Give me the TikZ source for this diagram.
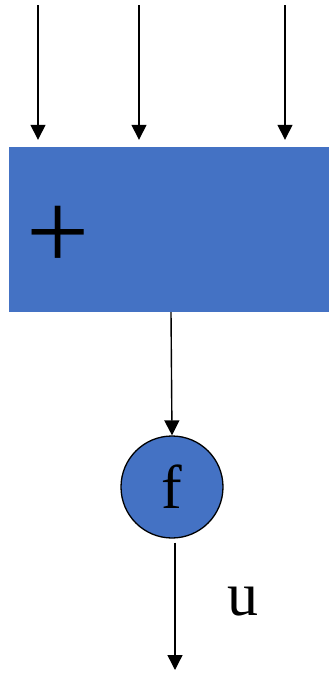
\documentclass[tikz,border=0pt]{standalone}
\usepackage{fontspec}
\setmainfont{Liberation Serif}
\usetikzlibrary{arrows.meta,positioning,calc}
\definecolor{Unit}{HTML}{4472C4}
\tikzset{
  sumbox/.style={fill=Unit,minimum width=320pt,minimum height=165pt,inner sep=0pt},
  actnode/.style={circle,draw=black,fill=Unit,line width=1.3pt,minimum size=102pt,inner sep=0pt,font=\fontsize{62}{62}\selectfont},
  sign/.style={inner sep=0pt,font=\fontsize{112}{112}\selectfont},
  flow/.style={-{Triangle[length=15pt,width=15pt]},draw=black,line width=1.4pt}
}
\begin{document}
\begin{tikzpicture}[x=1pt,y=-1pt]
  \useasboundingbox (0,0) rectangle (329,673);
  % summing block and activation
  \node[sumbox] (sum) at (169,229.5) {};
  \node[sign] (plus) at (58,238) {+};
  \node[actnode] (act) at (172,487) {f};
  \node[inner sep=0pt,font=\fontsize{62}{62}\selectfont] (lab) at (243,602) {u};
  % free ends
  \coordinate (in1) at (38,5);
  \coordinate (in2) at (139,5);
  \coordinate (in3) at (285,5);
  \coordinate (out) at (175,670);
  \foreach \i in {in1,in2,in3}
    \draw[flow,shorten >=7pt] (\i) -- (\i |- sum.north);
  \draw[flow] ([xshift=2pt]sum.south) -- (act.north);
  \draw[flow,shorten <=4pt] (act.south -| out) -- (out);
\end{tikzpicture}
\end{document}
